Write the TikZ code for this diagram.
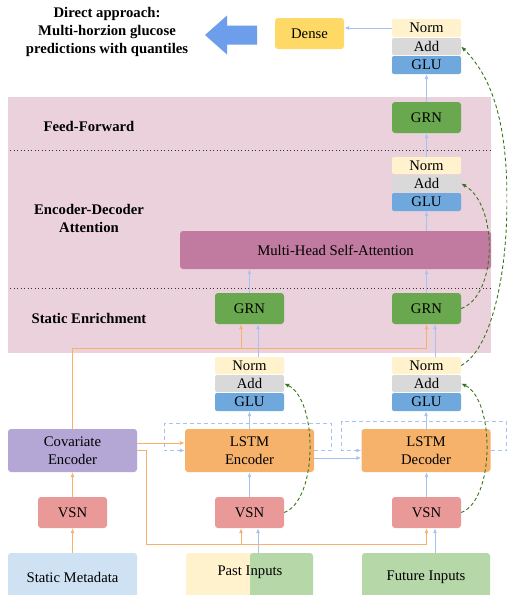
\documentclass[tikz,border=0pt]{standalone}
\usepackage{fontspec}
\setmainfont{Liberation Serif}
\usetikzlibrary{arrows.meta}
\definecolor{lblue}{HTML}{A4C2F4}
\definecolor{orng}{HTML}{F6B26B}
\definecolor{pinkbg}{HTML}{EAD1DC}
\definecolor{mhac}{HTML}{C27BA0}
\definecolor{grnc}{HTML}{6AA84F}
\definecolor{densec}{HTML}{FFD966}
\definecolor{covc}{HTML}{B4A7D6}
\definecolor{vsnc}{HTML}{EA9999}
\definecolor{statc}{HTML}{CFE2F3}
\definecolor{inpg}{HTML}{B6D7A8}
\definecolor{normc}{HTML}{FFF2CC}
\definecolor{addc}{HTML}{D9D9D9}
\definecolor{gluc}{HTML}{6FA8DC}
\definecolor{bigarr}{HTML}{6D9EEB}
\definecolor{dgreen}{HTML}{38761D}
\newcommand\nfs{\fontsize{14.7pt}{18pt}\selectfont}
\begin{document}
\begin{tikzpicture}[x=1pt,y=-1pt,
  box/.style={rounded corners=3pt, inner sep=0pt, align=center, font=\nfs},
  sbox/.style={box, minimum width=69pt, minimum height=31pt},
  wbox/.style={box, minimum width=129pt, minimum height=43pt},
  bar/.style={rounded corners=2pt, inner sep=0pt, font=\nfs, minimum width=69pt, minimum height=17pt},
  lab/.style={align=center, font=\nfs\bfseries},
  barrow/.style={draw=lblue, line width=0.9pt, -{Latex[length=5pt,width=4pt]}},
  oline/.style={draw=orng, line width=0.9pt},
  oarrow/.style={oline, -{Latex[length=5pt,width=4pt]}},
  bdash/.style={draw=lblue, line width=0.9pt, dash pattern=on 4pt off 3pt, -{Latex[length=5pt,width=4pt]}},
  gdash/.style={draw=dgreen, line width=0.9pt, dash pattern=on 3.5pt off 2.5pt, -{Latex[length=5pt,width=4pt]}},
  sep/.style={draw=black!80, line width=0.9pt, dash pattern=on 0.9pt off 2.6pt}
]
\useasboundingbox (0,0) rectangle (507,595);
\clip (0,0) rectangle (507,595);
\fill[white] (0,0) rectangle (507,595);

% background band
\fill[pinkbg] (8,97) rectangle (491,353);
\draw[sep] (10,150) -- (490,150);
\draw[sep] (10,288) -- (490,288);

% labels
\node[lab] (title) at (107,32) {Direct approach:\\Multi-horzion glucose\\predictions with quantiles};
\node[lab] (ff) at (89,126) {Feed-Forward};
\node[lab] (eda) at (89,218) {Encoder-Decoder\\Attention};
\node[lab] (se) at (89,318) {Static Enrichment};

% big arrow
\fill[bigarr] (205,35) -- (227,15.5) -- (227,25.5) -- (257,25.5) -- (257,44.5) -- (227,44.5) -- (227,54.5) -- cycle;

% top block
\node[sbox, fill=densec] (dense) at (309.5,33.5) {Dense};
\node[bar, fill=normc, minimum height=18pt] (normT) at (426.5,28) {Norm};
\node[bar, fill=addc] (addT) at (426.5,46.5) {Add};
\node[bar, fill=gluc, minimum height=18pt] (gluT) at (426.5,65) {GLU};

\node[sbox, fill=grnc] (grnFF) at (426.5,117.5) {GRN};
\node[bar, fill=normc] (norm2) at (426.5,165.5) {Norm};
\node[bar, fill=addc] (add2) at (426.5,183.5) {Add};
\node[bar, fill=gluc, minimum height=18pt] (glu2) at (426.5,202) {GLU};

\node[box, fill=mhac, minimum width=311pt, minimum height=38pt] (mha) at (335.5,250) {Multi-Head Self-Attention};

\node[sbox, fill=grnc] (grnL) at (249.5,308.5) {GRN};
\node[sbox, fill=grnc] (grnR) at (426.5,308.5) {GRN};

\node[bar, fill=normc] (norm3L) at (249.5,365.5) {Norm};
\node[bar, fill=addc] (add3L) at (249.5,383.5) {Add};
\node[bar, fill=gluc, minimum height=18pt] (glu3L) at (249.5,402) {GLU};
\node[bar, fill=normc] (norm3R) at (426.5,365.5) {Norm};
\node[bar, fill=addc] (add3R) at (426.5,383.5) {Add};
\node[bar, fill=gluc, minimum height=18pt] (glu3R) at (426.5,402) {GLU};

\node[wbox, fill=covc] (cov) at (72.5,450.5) {Covariate\\Encoder};
\node[wbox, fill=orng] (lstmE) at (249.5,450.5) {LSTM\\Encoder};
\node[wbox, fill=orng] (lstmD) at (426,450.5) {LSTM\\Decoder};

\node[sbox, fill=vsnc] (vsnL) at (72.5,512.5) {VSN};
\node[sbox, fill=vsnc] (vsnM) at (249.5,512.5) {VSN};
\node[sbox, fill=vsnc] (vsnR) at (426.5,512.5) {VSN};

\node[box, fill=statc, minimum width=129pt, minimum height=48pt] (stat) at (72.5,577) {Static Metadata};
\node[box, fill=normc, minimum width=94pt, minimum height=48pt] (pastY) at (233,577) {};
\node[box, fill=inpg, minimum width=63pt, minimum height=48pt] (pastG) at (281.5,577) {};
\node[font=\nfs, inner sep=0pt] (pastT) at (250,572) {Past Inputs};
\node[box, fill=inpg, minimum width=128pt, minimum height=48pt] (fut) at (426,577) {Future Inputs};

% blue connectors
\draw[barrow] (normT.west) -- (normT.west -| dense.east);
\draw[barrow] (grnFF.north) -- (gluT.south);
\draw[barrow] (norm2.north) -- (grnFF.south);
\draw[barrow] (mha.north -| glu2.south) -- (glu2.south);
\draw[barrow] (grnR.north) -- (grnR.north |- mha.south);
\draw[barrow] (grnL.north) -- (grnL.north |- mha.south);
\coordinate (nL) at ([xshift=8.5pt]norm3L.north);
\coordinate (nR) at ([xshift=8.5pt]norm3R.north);
\draw[barrow] (nL) -- (nL |- grnL.south);
\draw[barrow] (nR) -- (nR |- grnR.south);
\draw[barrow] (lstmE.north) -- (glu3L.south);
\draw[barrow] (lstmD.north) -- (lstmD.north |- glu3R.south);
\draw[barrow] (vsnM.north) -- (lstmE.south);
\draw[barrow] (vsnR.north) -- (vsnR.north |- lstmD.south);
\draw[barrow] ([yshift=-7.5pt]lstmE.east) -- ([yshift=-7.5pt]lstmE.east -| lstmD.west);
\coordinate (pM) at ([xshift=8.5pt]vsnM.south);
\coordinate (pR) at ([xshift=8.5pt]vsnR.south);
\draw[barrow] (pM |- pastG.north) -- (pM);
\draw[barrow] (pR |- fut.north) -- (pR);

% recurrent dashed loops
\draw[bdash] (lstmE.east) -- ++(17,0) -- ++(0,-27.5) -- ++(-167,0) -- ++(0,27.5) -- (lstmE.west);
\draw[bdash] (lstmD.east) -- ++(16,0) -- ++(0,-29.5) -- ++(-165,0) -- ++(0,29.5) -- (lstmD.west);

% orange connectors
\draw[oarrow] (stat.north) -- (vsnL.south);
\draw[oarrow] (vsnL.north) -- (cov.south);
\coordinate (ojR) at (426.5,348);
\coordinate (ojL) at (241,348);
\draw[oline] (cov.north) -- (cov.north |- ojR) -- (ojR);
\draw[oarrow] (ojL) -- (ojL |- grnL.south);
\draw[oarrow] (ojR) -- (ojR |- grnR.south);
\coordinate (c1) at ([yshift=7.5pt]cov.east);
\draw[oarrow] (c1) -- (c1 -| lstmE.west);
\coordinate (cb) at (146,544);
\coordinate (cbL) at (241,544);
\coordinate (cbR) at (426.5,544);
\draw[oline] (cov.east) -- (cov.east -| cb) -- (cb) -- (cbR);
\draw[oarrow] (cbL) -- (cbL |- vsnM.south);
\draw[oarrow] (cbR) -- (cbR |- vsnR.south);

% skip connections
\draw[gdash] (vsnM.east) .. controls (318,500) and (318,400) .. (add3L.east);
\draw[gdash] (vsnR.east) .. controls (495,500) and (495,400) .. (add3R.east);
\draw[gdash] (grnR.east) .. controls (498,295) and (498,205) .. (add2.east);
\draw[gdash] (norm3R.east) .. controls (490,350) and (507,280) .. (507,200) .. controls (507,130) and (495,80) .. (addT.east);
\end{tikzpicture}
\end{document}
